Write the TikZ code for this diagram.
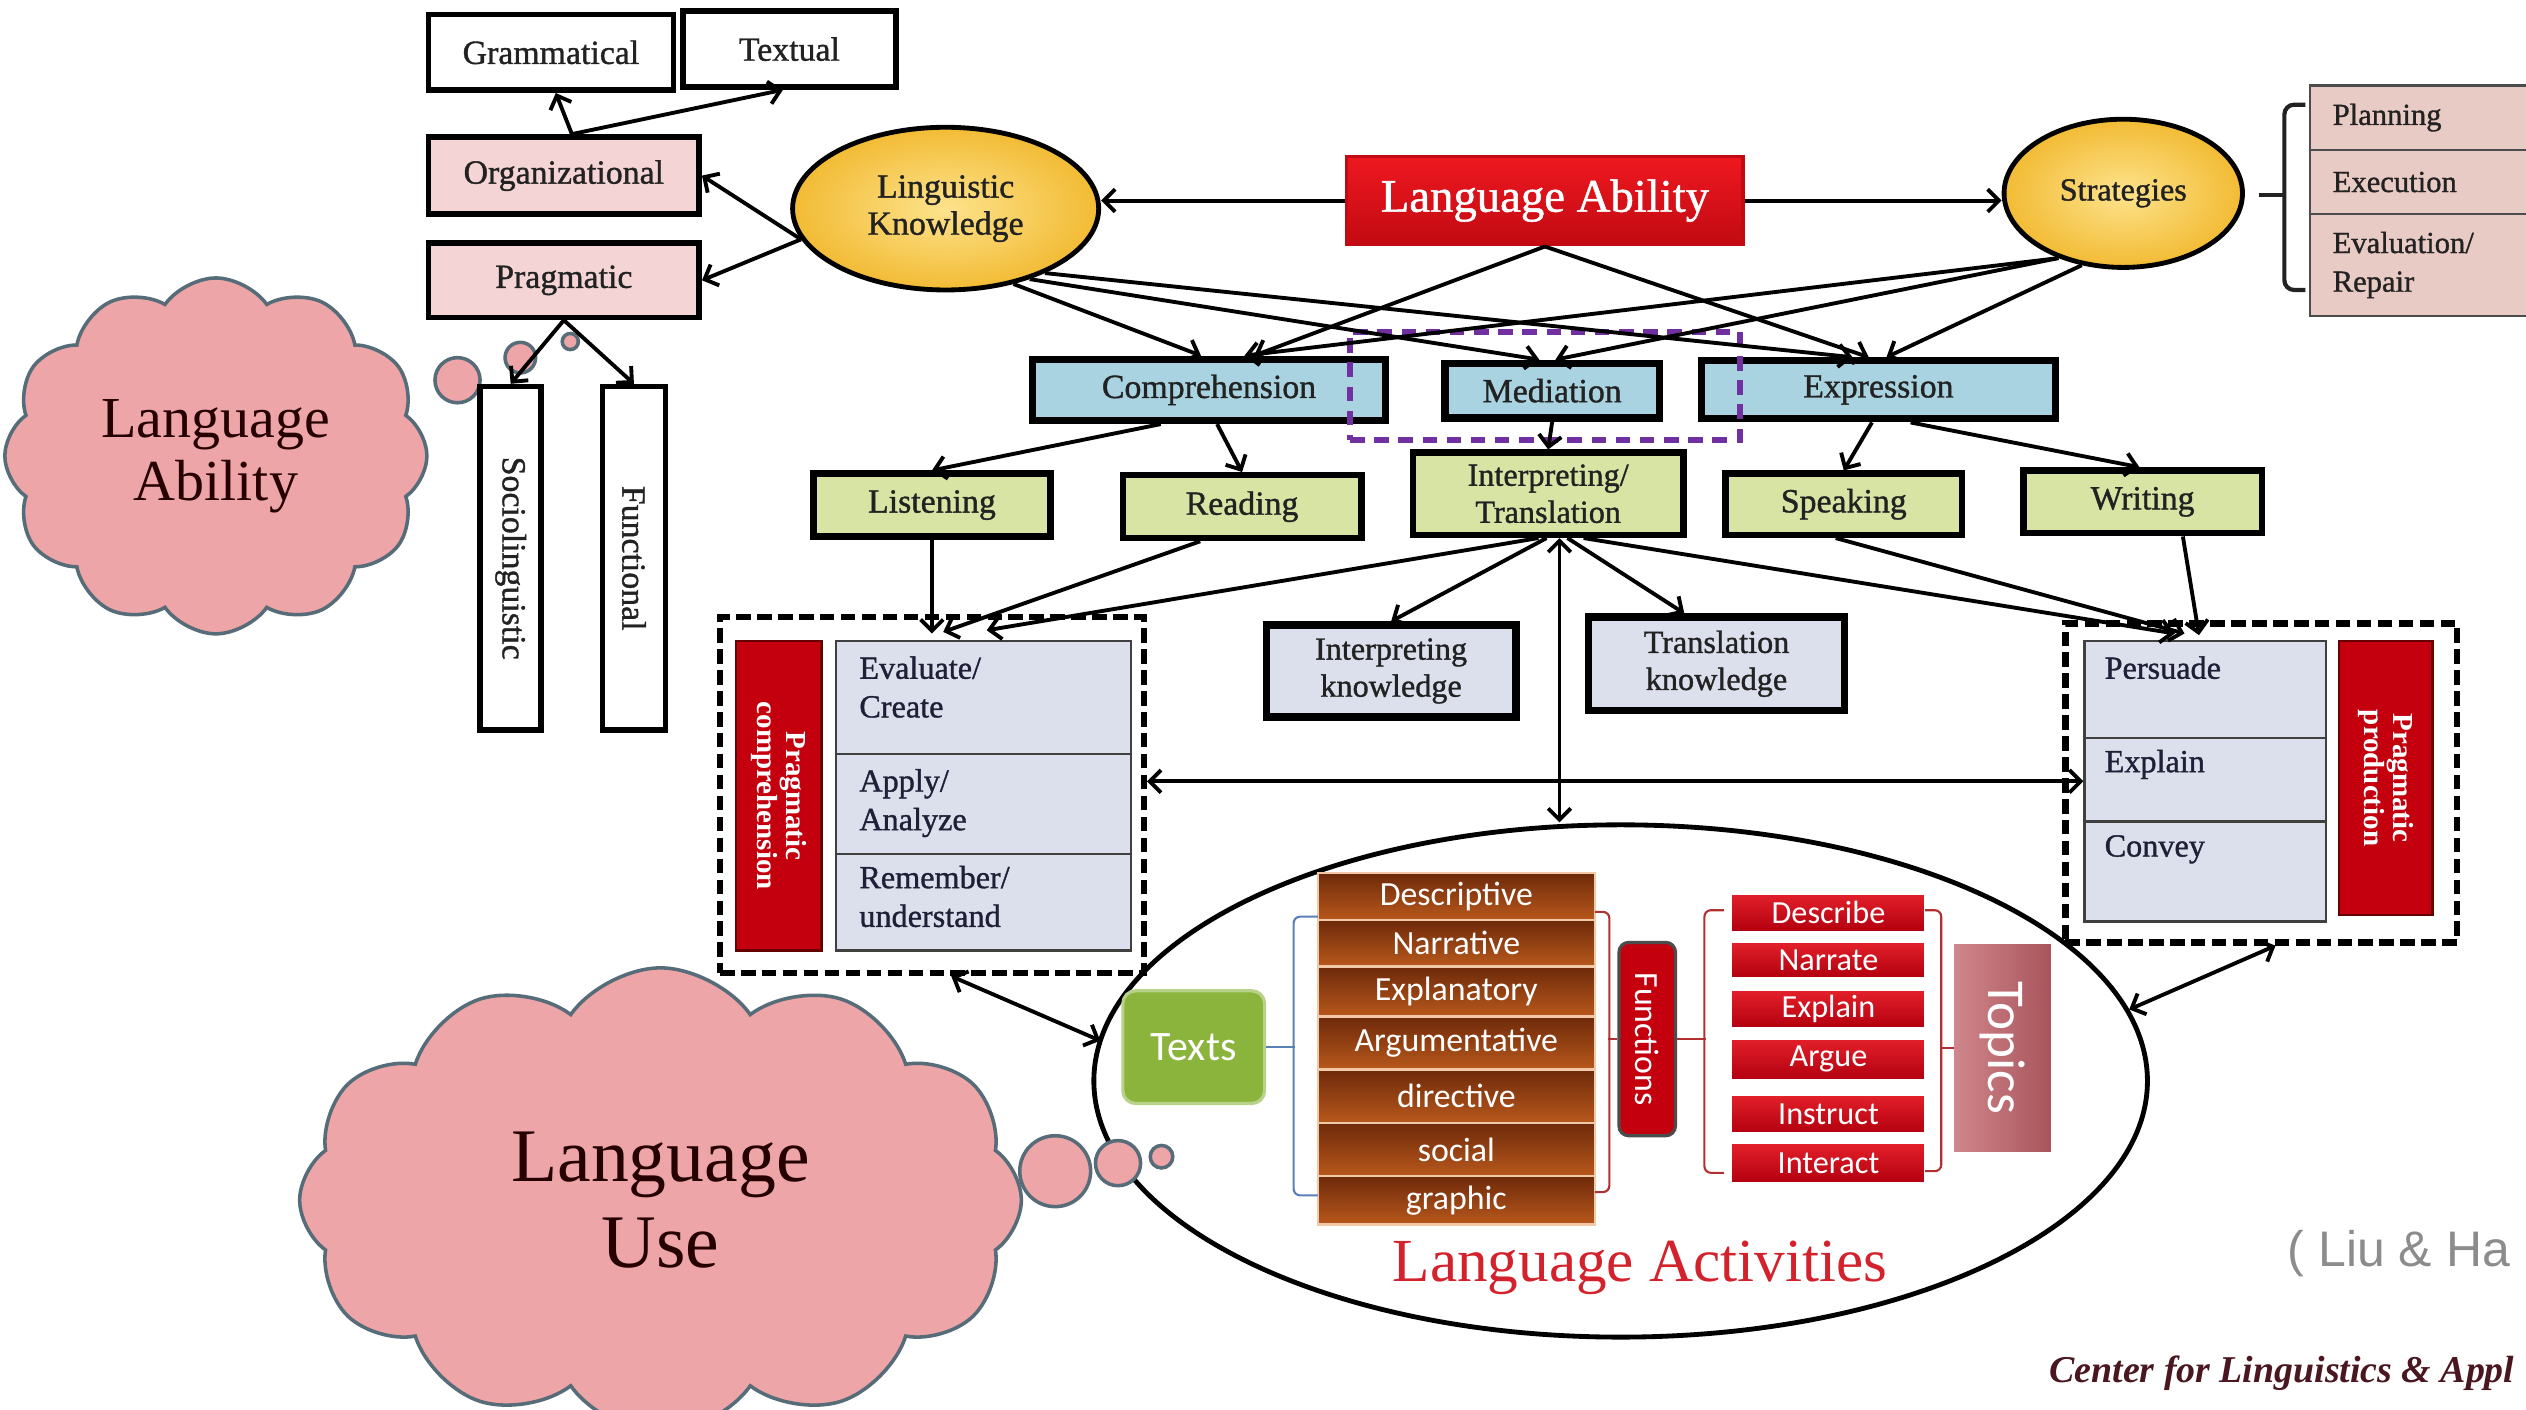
\documentclass[tikz,border=0pt]{standalone}
\usepackage{fontspec}
\setmainfont{Liberation Serif}
\newfontfamily\heavyserif[FakeBold=1.1]{Liberation Serif}
\newfontfamily\calibfont{Carlito}
\newfontfamily\arialfont{Liberation Sans}
\usetikzlibrary{arrows.meta,shapes.symbols,shapes.geometric,calc}

\definecolor{ink}{HTML}{222222}
\definecolor{boxpink}{HTML}{F4D4D4}
\definecolor{lblue}{HTML}{A9D3E0}
\definecolor{lgreen}{HTML}{D7E4A4}
\definecolor{lgrey}{HTML}{DCE0EC}
\definecolor{goldin}{HTML}{FDE38C}
\definecolor{goldout}{HTML}{F2BB34}
\definecolor{lared}{HTML}{EE1820}
\definecolor{laredd}{HTML}{C20A12}
\definecolor{cloudpink}{HTML}{EDA5A8}
\definecolor{cloudline}{HTML}{566C78}
\definecolor{stratpink}{HTML}{E9CBC6}
\definecolor{purp}{HTML}{7030A0}
\definecolor{barred}{HTML}{C4000F}
\definecolor{textgreen}{HTML}{8AB43C}
\definecolor{browntop}{HTML}{6E2A0A}
\definecolor{brownbot}{HTML}{B8581C}
\definecolor{peach}{HTML}{F2C9A8}
\definecolor{redtop}{HTML}{E2202A}
\definecolor{redbot}{HTML}{B3000F}
\definecolor{topicl}{HTML}{D0868C}
\definecolor{topicr}{HTML}{A9545C}
\definecolor{actred}{HTML}{D3222C}
\definecolor{bracketred}{HTML}{B23030}
\definecolor{bracketblue}{HTML}{5A80B8}
\definecolor{maroon}{HTML}{4A1620}

\tikzset{
  boxtext/.style={text=ink, font=\heavyserif\fontsize{21}{23}\selectfont, align=center},
  box/.style={draw=black, line width=3.5pt, inner sep=0pt, boxtext},
  bbox/.style={box, fill=lblue, line width=4.5pt},
  gbox/.style={box, fill=lgreen, line width=4pt},
  kbox/.style={box, fill=lgrey, line width=4.5pt},
  ell/.style={ellipse, draw=black, line width=3pt, inner sep=0pt,
    inner color=goldin, outer color=goldout, boxtext},
  labox/.style={draw=laredd, line width=2pt, top color=lared, bottom color=laredd,
    inner sep=0pt, text=white, font=\heavyserif\fontsize{29}{30}\selectfont,
    minimum width=246pt, minimum height=55pt},
  pcell/.style={draw=black!70, line width=1.5pt, fill=stratpink, inner xsep=14pt,
    inner ysep=0pt, text width=118pt, align=left, text=ink,
    font=\heavyserif\fontsize{19}{24}\selectfont, minimum width=146pt},
  dashbox/.style={draw=black, line width=4pt, dash pattern=on 9pt off 4pt, inner sep=0pt},
  redbar/.style={draw=black!60!red, line width=1.5pt, fill=barred, inner sep=0pt,
    text=white, font=\bfseries\fontsize{18}{21}\selectfont},
  tcell/.style={draw=black!75, line width=1.5pt, fill=lgrey, inner sep=0pt},
  ttext/.style={anchor=north west, inner sep=0pt, align=left, text=ink!90!blue,
    font=\heavyserif\fontsize{20}{24}\selectfont},
  brownrow/.style={draw=peach, line width=1.5pt, top color=browntop, bottom color=brownbot,
    inner sep=0pt, minimum width=172pt, text=white,
    font=\calibfont\fontsize{21}{22}\selectfont},
  redrow/.style={draw=white, line width=0.8pt, top color=redtop, bottom color=redbot,
    inner sep=0pt, minimum width=120pt, text=white,
    font=\calibfont\fontsize{20}{21}\selectfont},
  cloudsty/.style={cloud, cloud puffs=12, cloud puff arc=110, draw=cloudline,
    line width=2.2pt, fill=cloudpink, inner sep=0pt, text=black!85!red, align=center},
  bubble/.style={circle, draw=cloudline, line width=2.2pt, fill=cloudpink, inner sep=0pt},
  barb/.tip={Straight Barb[length=7pt,width=14pt,line width=2.4pt]},
  arr/.style={line width=2.4pt, -barb},
  dbl/.style={line width=2.4pt, barb-barb},
  brk/.style={line width=1.3pt, rounded corners=4pt}
}

\begin{document}
\begin{tikzpicture}[x=1pt,y=-1pt]
\useasboundingbox (0,0) rectangle (1568,875);
\clip (0,0) rectangle (1568,875);
\fill[white] (0,0) rectangle (1568,875);

% ---------- Language Ability cloud ----------
\node[cloudsty, minimum width=262pt, minimum height=176pt,
      font=\fontsize{36}{39}\selectfont] (cloudA) at (134,283) {Language\\Ability};
\node[bubble, minimum size=28pt] (bubA1) at (284,236) {};
\node[bubble, minimum size=19pt] (bubA2) at (323,222) {};
\node[bubble, minimum size=10pt] (bubA3) at (354,212) {};

% ---------- organizational / pragmatic branch ----------
\node[box, minimum width=152pt, minimum height=47pt] (gram) at (342,32.5) {Grammatical};
\node[box, minimum width=132pt, minimum height=47pt] (textual) at (490,30.5) {Textual};
\node[box, fill=boxpink, minimum width=168pt, minimum height=48pt] (org) at (350,109) {Organizational};
\node[box, fill=boxpink, minimum width=168pt, minimum height=46pt] (prag) at (350,174) {Pragmatic};
\node[box, minimum width=38pt, minimum height=213pt] (socio) at (317,346.5) {\rotatebox{-90}{Sociolinguistic}};
\node[box, minimum width=39pt, minimum height=213pt] (func) at (393.5,346.5) {\rotatebox{-90}{Functional}};

% ---------- top row ----------
\node[ell, minimum width=190pt, minimum height=101pt] (lk) at (587,129.5) {Linguistic\\Knowledge};
\node[labox] (la) at (959,124.5) {Language Ability};
\node[ell, minimum width=148pt, minimum height=92pt, font=\heavyserif\fontsize{20}{22}\selectfont] (strat) at (1318,120) {Strategies};

\node[pcell, minimum height=40pt] (plan) at (1507,73) {Planning};
\node[pcell, minimum height=40pt] (exec) at (1507,113) {Execution};
\node[pcell, minimum height=63pt] (evalr) at (1507,164.5) {Evaluation/\\Repair};
\draw[line width=2.6pt, draw=ink, rounded corners=6pt]
  (1431,65) -- (1418,65) -- (1418,180) -- (1431,180);
\draw[line width=2.6pt, draw=ink] (1418,121) -- (1402,121);

% ---------- comprehension / mediation / expression ----------
\node[bbox, minimum width=219pt, minimum height=38pt] (comp) at (750.5,242) {Comprehension};
\node[bbox, minimum width=133pt, minimum height=34pt] (med) at (963.5,242.5) {Mediation};
\node[bbox, minimum width=220pt, minimum height=36pt] (expr) at (1166,242) {Expression};
\node[draw=purp, line width=3.5pt, dash pattern=on 9pt off 6pt, inner sep=0pt,
      minimum width=242pt, minimum height=67pt] (medframe) at (959,239.5) {};

% ---------- skills ----------
\node[gbox, minimum width=147pt, minimum height=39pt] (listen) at (578.5,313.5) {Listening};
\node[gbox, minimum width=148pt, minimum height=39pt] (read) at (771,314.5) {Reading};
\node[gbox, minimum width=168pt, minimum height=51pt, font=\heavyserif\fontsize{20}{23}\selectfont] (it) at (961,306.5) {Interpreting/\\Translation};
\node[gbox, minimum width=147pt, minimum height=38pt] (speak) at (1144.5,313) {Speaking};
\node[gbox, minimum width=148pt, minimum height=39pt] (write) at (1330,311.5) {Writing};

\node[kbox, minimum width=155pt, minimum height=57pt, font=\heavyserif\fontsize{20}{23}\selectfont] (ik) at (863.5,416.5) {Interpreting\\knowledge};
\node[kbox, minimum width=159pt, minimum height=58pt, font=\heavyserif\fontsize{20}{23}\selectfont] (tk) at (1065.5,412) {Translation\\knowledge};

% ---------- pragmatic comprehension ----------
\node[dashbox, minimum width=263pt, minimum height=221pt] (lc) at (578.5,493.5) {};
\node[redbar, minimum width=53pt, minimum height=192pt] (pcomp) at (483.5,494)
  {\rotatebox{-90}{\begin{tabular}{@{}c@{}}Pragmatic\\[-3pt]comprehension\end{tabular}}};
\node[tcell, minimum width=183pt, minimum height=70pt] (lt1) at (610.5,433) {};
\node[tcell, minimum width=183pt, minimum height=62pt] (lt2) at (610.5,499) {};
\node[tcell, minimum width=183pt, minimum height=60pt] (lt3) at (610.5,560) {};
\node[ttext] (lt1t) at ([xshift=15pt,yshift=-10pt]lt1.north west) {Evaluate/\\Create};
\node[ttext] (lt2t) at ([xshift=15pt,yshift=-10pt]lt2.north west) {Apply/\\Analyze};
\node[ttext] (lt3t) at ([xshift=15pt,yshift=-8pt]lt3.north west) {Remember/\\understand};

% ---------- pragmatic production ----------
\node[dashbox, minimum width=243pt, minimum height=198pt] (rc) at (1403.5,486) {};
\node[tcell, minimum width=150pt, minimum height=60pt] (rt1) at (1369,428) {};
\node[tcell, minimum width=150pt, minimum height=52pt] (rt2) at (1369,484) {};
\node[tcell, minimum width=150pt, minimum height=62pt] (rt3) at (1369,541) {};
\node[ttext] (rt1t) at ([xshift=13pt,yshift=-10pt]rt1.north west) {Persuade};
\node[ttext] (rt2t) at ([xshift=13pt,yshift=-8pt]rt2.north west) {Explain};
\node[ttext] (rt3t) at ([xshift=13pt,yshift=-9pt]rt3.north west) {Convey};
\node[redbar, minimum width=58pt, minimum height=170pt] (pprod) at (1481,483)
  {\rotatebox{-90}{\begin{tabular}{@{}c@{}}Pragmatic\\[-3pt]production\end{tabular}}};

% ---------- language activities ----------
\node[ellipse, draw=black, line width=3pt, inner sep=0pt,
      minimum width=654pt, minimum height=318pt] (act) at (1006,671) {};
\node[draw=textgreen!60!white, line width=2pt, fill=textgreen, rounded corners=8pt,
      inner sep=0pt, minimum width=88pt, minimum height=70pt, text=white,
      font=\calibfont\fontsize{26}{26}\selectfont] (texts) at (741,650) {Texts};

\node[brownrow, minimum height=29pt] (t1) at (904,556.5) {Descriptive};
\node[brownrow, minimum height=29pt] (t2) at (904,585.5) {Narrative};
\node[brownrow, minimum height=31pt] (t3) at (904,615.5) {Explanatory};
\node[brownrow, minimum height=33pt] (t4) at (904,647.5) {Argumentative};
\node[brownrow, minimum height=33pt] (t5) at (904,680.5) {directive};
\node[brownrow, minimum height=33pt] (t6) at (904,713.5) {social};
\node[brownrow, minimum height=30pt] (t7) at (904,745) {graphic};

\node[draw=black!70, line width=2pt, fill=barred, rounded corners=6pt, inner sep=0pt,
      minimum width=35pt, minimum height=120pt, text=white,
      font=\calibfont\fontsize{21}{21}\selectfont] (funcs) at (1022.5,645) {\rotatebox{-90}{Functions}};

\node[redrow, minimum height=23pt] (f1) at (1135,566.5) {Describe};
\node[redrow, minimum height=22pt] (f2) at (1135,596) {Narrate};
\node[redrow, minimum height=23pt] (f3) at (1135,626.5) {Explain};
\node[redrow, minimum height=25pt] (f4) at (1135,657.5) {Argue};
\node[redrow, minimum height=23pt] (f5) at (1135,691.5) {Instruct};
\node[redrow, minimum height=24pt] (f6) at (1135,722) {Interact};

\node[left color=topicl, right color=topicr, inner sep=0pt, minimum width=60pt,
      minimum height=129pt, text=white, font=\calibfont\fontsize{33}{33}\selectfont]
      (topics) at (1243,650.5) {\rotatebox{-90}{Topics}};

% brackets joining the columns
\draw[brk, bracketblue] (818,569) -- (803,569) -- (803,742) -- (818,742);
\draw[line width=1.3pt, bracketblue] (texts.east) -- +(18,0);
\draw[brk, bracketred] (990,566) -- (999,566) -- (999,740) -- (990,740);
\draw[line width=1.3pt, bracketred] (funcs.west) -- +(-6,0);
\draw[brk, bracketred] (1070,565) -- (1058,565) -- (1058,728) -- (1070,728);
\draw[line width=1.3pt, bracketred] (funcs.east) -- +(18,0);
\draw[brk, bracketred] (1195,565) -- (1205,565) -- (1205,727) -- (1195,727);
\draw[line width=1.3pt, bracketred] (topics.west) -- +(-8,0);

\node[text=actred, font=\fontsize{38}{38}\selectfont, inner sep=0pt] (lact) at (1018,787) {Language Activities};

% ---------- Language Use cloud ----------
\node[cloudsty, minimum width=448pt, minimum height=255pt,
      font=\fontsize{47}{53}\selectfont] (cloudB) at (410,745) {Language\\Use};
\node[bubble, minimum size=44pt] (bubB1) at (655,727) {};
\node[bubble, minimum size=28pt] (bubB2) at (694,722) {};
\node[bubble, minimum size=14pt] (bubB3) at (721,718) {};

% ---------- connectors ----------
\draw[arr] (la.west) -- (la.west -| lk.east);
\draw[arr] (la.east) -- (la.east -| strat.west);
\coordinate (lkw) at (lk.192);
\draw[arr] (lkw) -- (org.east);
\draw[arr] (lkw) -- (prag.east);
\draw[arr] ([xshift=5pt]org.north) -- ([xshift=3pt]gram.south);
\draw[arr] ([xshift=5pt]org.north) -- ([xshift=-4pt]textual.south);
\draw[arr] (prag.south) -- (socio.north);
\draw[arr] (prag.south) -- (func.north);

\draw[arr] (lk.-48) -- ([xshift=-5pt]comp.north);
\draw[arr] (lk.-40) -- ([xshift=-8pt]med.north);
\draw[arr] (lk.-33) -- ([xshift=-16pt]expr.north);
\draw[arr] (la.south) -- ([xshift=28pt]comp.north);
\draw[arr] (la.south) -- ([xshift=-6pt]expr.north);
\draw[arr] (strat.-135) -- ([xshift=22pt]comp.north);
\draw[arr] (strat.-135) -- ([xshift=2pt]med.north);
\draw[arr] (strat.-120) -- ([xshift=5pt]expr.north);

\draw[arr] ([xshift=-30pt]comp.south) -- (listen.north);
\draw[arr] ([xshift=5pt]comp.south) -- (read.north);
\draw[arr] (med.south) -- (it.north);
\draw[arr] ([xshift=-4pt]expr.south) -- (speak.north);
\draw[arr] ([xshift=20pt]expr.south) -- ([xshift=-2pt]write.north);

\draw[arr] (listen.south) -- ([yshift=4pt]listen.south |- lt1.north);
\draw[arr] ([xshift=-26pt]read.south) -- ([xshift=-25pt,yshift=5pt]lt1.north);
\draw[arr] ([xshift=-6pt]it.south) -- ([xshift=2pt,yshift=6pt]lt1.north);
\draw[arr] ([xshift=-1pt]it.south) -- (ik.north);
\draw[arr] ([xshift=12pt]it.south) -- ([xshift=-20pt]tk.north);
\draw[arr] ([xshift=22pt]it.south) -- ([xshift=-19pt,yshift=4pt]rt1.north);
\draw[arr] ([xshift=-5pt]speak.south) -- ([xshift=-13pt,yshift=4pt]rt1.north);
\draw[arr] ([xshift=25pt]write.south) -- ([xshift=-4pt,yshift=3pt]rt1.north);

\draw[dbl] ([xshift=7pt]it.south) -- ([xshift=7pt]it.south |- act.north);
\draw[dbl] ([yshift=8.5pt]lc.east) -- ([yshift=8.5pt]lc.east -| rt2.west);
\draw[dbl] ([xshift=12pt]lc.south) -- ([xshift=-13pt,yshift=4pt]texts.west);
\draw[dbl] ([xshift=9pt]rc.south) -- (act.8);

% ---------- source line ----------
\node[anchor=base west, inner sep=0pt, text=black!45,
      font=\arialfont\fontsize{31}{31}\selectfont] (cite) at (1420,786) {( Liu \& Ha};
\node[anchor=base west, inner sep=0pt, text=maroon,
      font=\bfseries\itshape\fontsize{23.5}{24}\selectfont] (centre) at (1272,858) {Center for Linguistics \& Appl};
\end{tikzpicture}
\end{document}
